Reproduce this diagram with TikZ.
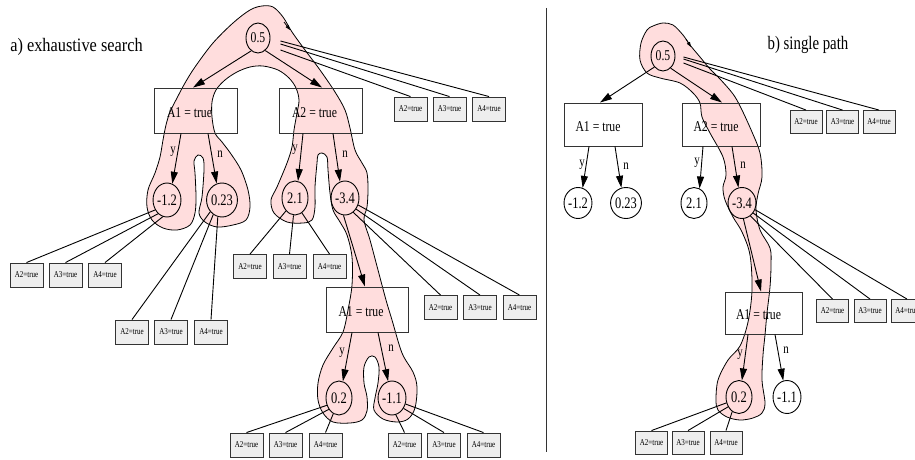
\documentclass[tikz,border=0pt]{standalone}
\usepackage{fontspec}
\setmainfont{Liberation Serif}
\usepackage{graphicx}
\usetikzlibrary{shapes.geometric,arrows.meta,calc}
\definecolor{blobpink}{RGB}{255,221,221}
\definecolor{boxgray}{RGB}{238,238,238}
\newcommand\sqz[2]{\scalebox{0.78}[1]{\fontsize{#1}{#1}\selectfont #2}}
\newcommand\sqzw[3]{\scalebox{#1}[1]{\fontsize{#2}{#2}\selectfont #3}}
\begin{document}
\begin{tikzpicture}[x=1pt,y=-1pt,line width=0.9pt,
  numnode/.style={ellipse,draw,minimum width=26pt,minimum height=34pt,inner sep=0pt},
  numnodeR/.style={ellipse,draw,minimum width=26pt,minimum height=31pt,inner sep=0pt},
  rootnode/.style={ellipse,draw,minimum width=24pt,minimum height=30pt,inner sep=0pt},
  testbox/.style={rectangle,draw=black!80,minimum width=83pt,minimum height=45pt,inner sep=0pt},
  testboxR/.style={rectangle,draw=black!80,minimum width=78pt,minimum height=43pt,inner sep=0pt},
  leafbox/.style={rectangle,draw=black!80,fill=boxgray,minimum width=33pt,minimum height=24pt,inner sep=0pt},
  leafboxR/.style={rectangle,draw=black!80,fill=boxgray,minimum width=32pt,minimum height=23pt,inner sep=0pt},
  arr/.style={-{Triangle[length=12pt,width=7pt]}},
  blob/.style={fill=blobpink,draw=black,line width=0.8pt},
  yn/.style={inner sep=0pt},
  tlabel/.style={inner sep=0pt}
]
\useasboundingbox (0,0) rectangle (915,460);

% ---------- highlighted regions ----------
\draw[blob] plot[smooth cycle,tension=0.55] coordinates {
 (262,6) (273,7) (283,17) (292,32) (305,50) (320,70) (335,92) (345,110) (350,128)
 (355,150) (362,163) (367,173) (368,190) (367,207) (364,220) (370,240) (378,270)
 (386,300) (392,320) (402,353) (413,372) (417,387) (415,408) (408,419) (397,422)
 (383,419) (374,410) (375,398) (378,383) (379,367) (375,357) (369,357) (364,367)
 (364,383) (367,397) (367,411) (362,420) (350,423) (333,422) (323,413) (318,400)
 (318,383) (323,365) (333,348) (343,332) (348,310) (352,285) (352,257) (347,235)
 (340,222) (333,210) (330,193) (328,170) (327,157) (322,153) (318,155) (317,163)
 (315,187) (315,207) (312,220) (303,223) (287,222) (274,213) (271,200) (277,187)
 (287,163) (292,147) (294,130) (297,113) (299,100) (296,88) (289,78) (278,70)
 (263,66) (250,67) (237,72) (225,80) (216,90) (212,102) (212,117) (215,133)
 (222,142) (231,154) (241,170) (248,190) (250,207) (246,220) (233,225) (217,227)
 (205,222) (199,213) (202,197) (204,170) (203,158) (198,155) (194,161) (195,173)
 (196,197) (195,213) (190,225) (177,230) (163,228) (152,220) (147,207) (148,190)
 (155,173) (160,157) (163,140) (166,125) (170,112) (177,98) (185,83) (195,67)
 (213,43) (233,23) (250,10)};
\draw[-{Triangle[length=5pt,width=3.5pt]},line width=0.8pt] (284,22) -- (290,30);

\draw[blob] plot[smooth cycle,tension=0.55] coordinates {
 (647,30) (653,26) (663,23) (673,25) (683,35) (690,45) (700,57) (710,69) (720,79)
 (733,94) (741,108) (752,132) (760,153) (762,177) (758,194) (756,210) (760,230)
 (770,248) (771,265) (770,287) (767,313) (765,335) (763,355) (762,380) (765,403)
 (762,413) (753,418) (740,420) (727,417) (718,410) (716,400) (718,380) (728,360)
 (740,346) (748,322) (752,290) (750,255) (742,232) (733,217) (725,200) (723,187)
 (726,175) (723,157) (710,133) (702,117) (700,103) (693,93) (680,83) (660,78)
 (647,73) (640,60) (641,43)};
\draw[-{Triangle[length=5pt,width=3.5pt]},line width=0.8pt] (686,39) -- (691,47);

% ---------- divider and titles ----------
\coordinate (dtop) at (546,8);
\coordinate (dbot) at (546,452);
\draw[black!80] (dtop) -- (dbot);
\node[tlabel] (ta) at (76.5,47) {\sqzw{0.86}{19}{a) exhaustive search}};
\node[tlabel] (tb) at (808,45) {\sqzw{0.78}{19}{b) single path}};

% ---------- left tree ----------
\node[rootnode] (r1) at (258,38) {\sqz{15}{0.5}};
\node[testbox,label={[inner sep=0pt,xshift=-6pt,yshift=-2pt]center:\sqz{15}{A1 = true}}] (A1L) at (195.5,110.5) {};
\node[testbox,label={[inner sep=0pt,xshift=-6pt,yshift=-2pt]center:\sqz{15}{A2 = true}}] (A2L) at (320.5,110.5) {};
\node[leafbox] (lrA2) at (410.5,109) {\sqz{9}{A2=true}};
\node[leafbox] (lrA3) at (449.5,109) {\sqz{9}{A3=true}};
\node[leafbox] (lrA4) at (489,109) {\sqz{9}{A4=true}};

\node[numnode] (m12) at (167,200) {\sqz{16}{-1.2}};
\node[numnode] (m023) at (222,200) {\sqz{16}{0.23}};
\node[numnode] (m21) at (295,198) {\sqz{16}{2.1}};
\node[numnode] (m34) at (345,198) {\sqz{16}{-3.4}};

\node[leafbox] (l12a) at (26.5,275) {\sqz{9}{A2=true}};
\node[leafbox] (l12b) at (65.5,275) {\sqz{9}{A3=true}};
\node[leafbox] (l12c) at (105,275) {\sqz{9}{A4=true}};
\node[leafbox] (l023a) at (132,332) {\sqz{9}{A2=true}};
\node[leafbox] (l023b) at (171,332) {\sqz{9}{A3=true}};
\node[leafbox] (l023c) at (211,332) {\sqz{9}{A4=true}};
\node[leafbox] (l21a) at (250,266.5) {\sqz{9}{A2=true}};
\node[leafbox] (l21b) at (289.5,266.5) {\sqz{9}{A3=true}};
\node[leafbox] (l21c) at (329.5,266.5) {\sqz{9}{A4=true}};
\node[leafbox] (l34a) at (440.5,307.5) {\sqz{9}{A2=true}};
\node[leafbox] (l34b) at (480,307.5) {\sqz{9}{A3=true}};
\node[leafbox] (l34c) at (519.5,307.5) {\sqz{9}{A4=true}};

\node[testbox,minimum width=82pt,label={[inner sep=0pt,xshift=-6pt,yshift=-2pt]center:\sqz{15}{A1 = true}}] (A1L3) at (367,309.5) {};
\node[numnode] (m02) at (339,398) {\sqz{16}{0.2}};
\node[numnode] (m11) at (392,398) {\sqz{16}{-1.1}};
\node[leafbox] (l02a) at (246.5,445) {\sqz{9}{A2=true}};
\node[leafbox] (l02b) at (285.5,445) {\sqz{9}{A3=true}};
\node[leafbox] (l02c) at (325.5,445) {\sqz{9}{A4=true}};
\node[leafbox] (l11a) at (404.5,445) {\sqz{9}{A2=true}};
\node[leafbox] (l11b) at (444,445) {\sqz{9}{A3=true}};
\node[leafbox] (l11c) at (483.5,445) {\sqz{9}{A4=true}};

% left edges
\draw[arr] (r1.242) -- ($(A1L.north)+(-2.5,0)$);
\draw[arr] (r1.300) -- ($(A2L.north)+(1.5,0)$);
\draw ($(r1.east)+(10,3)$) -- (lrA4.north);
\draw ($(r1.east)+(10,6)$) -- (lrA3.north);
\draw ($(r1.east)+(10,12)$) -- (lrA2.north);

\draw[arr] ($(A1L.south)+(-14.5,0)$) -- (m12.72);
\draw[arr] ($(A1L.south)+(12.5,0)$) -- (m023.108);
\draw[arr] ($(A2L.south)+(-17.5,0)$) -- (m21.80);
\draw[arr] ($(A2L.south)+(12.5,0)$) -- (m34.107);
\node[yn] (yL1) at (173,152) {\sqz{14}{y}};
\node[yn] (nL1) at (220,154) {\sqz{14}{n}};
\node[yn] (yL2) at (295,150) {\sqz{14}{y}};
\node[yn] (nL2) at (345,154) {\sqz{14}{n}};

\draw (m12.220) -- (l12a.north);
\draw (m12.237) -- (l12b.north);
\draw (m12.256) -- (l12c.north);
\draw (m023.225) -- (l023a.north);
\draw (m023.239) -- (l023b.north);
\draw (m023.256) -- (l023c.north);
\draw (m21.235) -- (l21a.north);
\draw (m21.265) -- (l21b.north);
\draw (m21.295) -- (l21c.north);
\draw (m34.300) -- (l34a.north);
\draw (m34.315) -- (l34b.north);
\draw (m34.332) -- (l34c.north);

\draw[arr] (m34.265) -- ($(A1L3.north)+(-2,0)$);
\draw[arr] ($(A1L3.south)+(-15,0)$) -- (m02.77);
\draw[arr] ($(A1L3.south)+(11,0)$) -- (m11.103);
\node[yn] (yL3) at (342,353) {\sqz{14}{y}};
\node[yn] (nL3) at (391,348) {\sqz{14}{n}};

\draw (m02.211) -- (l02a.north);
\draw (m02.228) -- (l02b.north);
\draw (m02.250) -- (l02c.north);
\draw (m11.283) -- (l11a.north);
\draw (m11.318) -- (l11b.north);
\draw (m11.336) -- (l11c.north);

% ---------- right tree ----------
\node[rootnode] (r2) at (663,56) {\sqz{15}{0.5}};
\node[testboxR,label={[inner sep=0pt,xshift=-5pt,yshift=-2pt]center:\sqz{15}{A1 = true}}] (A1R) at (603,124.5) {};
\node[testboxR,label={[inner sep=0pt,xshift=-5pt,yshift=-2pt]center:\sqz{15}{A2 = true}}] (A2R) at (721,124.5) {};
\node[leafboxR] (rrA2) at (806,122) {\sqz{9}{A2=true}};
\node[leafboxR] (rrA3) at (842.5,122) {\sqz{9}{A3=true}};
\node[leafboxR] (rrA4) at (879,122) {\sqz{9}{A4=true}};

\node[numnodeR] (n12) at (578,203) {\sqz{16}{-1.2}};
\node[numnodeR] (n023) at (626,203) {\sqz{16}{0.23}};
\node[numnodeR] (n21) at (694,203) {\sqz{16}{2.1}};
\node[numnodeR] (n34) at (742,203) {\sqz{16}{-3.4}};

\node[testboxR,minimum width=77pt,minimum height=42pt,label={[inner sep=0pt,xshift=-5pt,yshift=-2pt]center:\sqz{15}{A1 = true}}] (A1R3) at (763.5,313) {};
\node[leafboxR] (s34a) at (832.5,311) {\sqz{9}{A2=true}};
\node[leafboxR] (s34b) at (870,311) {\sqz{9}{A3=true}};
\node[leafboxR] (s34c) at (907,311) {\sqz{9}{A4=true}};

\node[numnodeR,minimum height=33pt] (n02) at (739,397) {\sqz{16}{0.2}};
\node[numnodeR,minimum height=33pt] (n11) at (787,397) {\sqz{16}{-1.1}};
\node[leafboxR] (s02a) at (651.5,442.5) {\sqz{9}{A2=true}};
\node[leafboxR] (s02b) at (688,442.5) {\sqz{9}{A3=true}};
\node[leafboxR] (s02c) at (726,442.5) {\sqz{9}{A4=true}};

% right edges
\draw[arr] (r2.232) -- ($(A1R.north)+(-3,0)$);
\draw[arr] (r2.302) -- ($(A2R.north)+(1,0)$);
\draw ($(r2.east)+(8,1)$) -- (rrA4.north);
\draw ($(r2.east)+(8,3)$) -- (rrA3.north);
\draw ($(r2.east)+(8,7)$) -- (rrA2.north);

\draw[arr] ($(A1R.south)+(-14,0)$) -- (n12.73);
\draw[arr] ($(A1R.south)+(12,0)$) -- (n023.107);
\draw[arr] ($(A2R.south)+(-18,0)$) -- (n21.69);
\draw[arr] ($(A2R.south)+(11,0)$) -- (n34.103);
\node[yn] (yR1) at (582,165) {\sqz{14}{y}};
\node[yn] (nR1) at (626,166) {\sqz{14}{n}};
\node[yn] (yR2) at (697,163) {\sqz{14}{y}};
\node[yn] (nR2) at (743,165) {\sqz{14}{n}};

\draw[arr] (n34.275) -- ($(A1R3.north)+(-2.5,0)$);
\draw (n34.303) -- (s34a.north);
\draw (n34.318) -- (s34b.north);
\draw (n34.333) -- (s34c.north);

\draw[arr] ($(A1R3.south)+(-15.5,0)$) -- (n02.80);
\draw[arr] ($(A1R3.south)+(11.5,0)$) -- (n11.103);
\node[yn] (yR3) at (740,355) {\sqz{14}{y}};
\node[yn] (nR3) at (786,350) {\sqz{14}{n}};

\draw (n02.205) -- (s02a.north);
\draw (n02.222) -- (s02b.north);
\draw (n02.245) -- (s02c.north);
\end{tikzpicture}
\end{document}
